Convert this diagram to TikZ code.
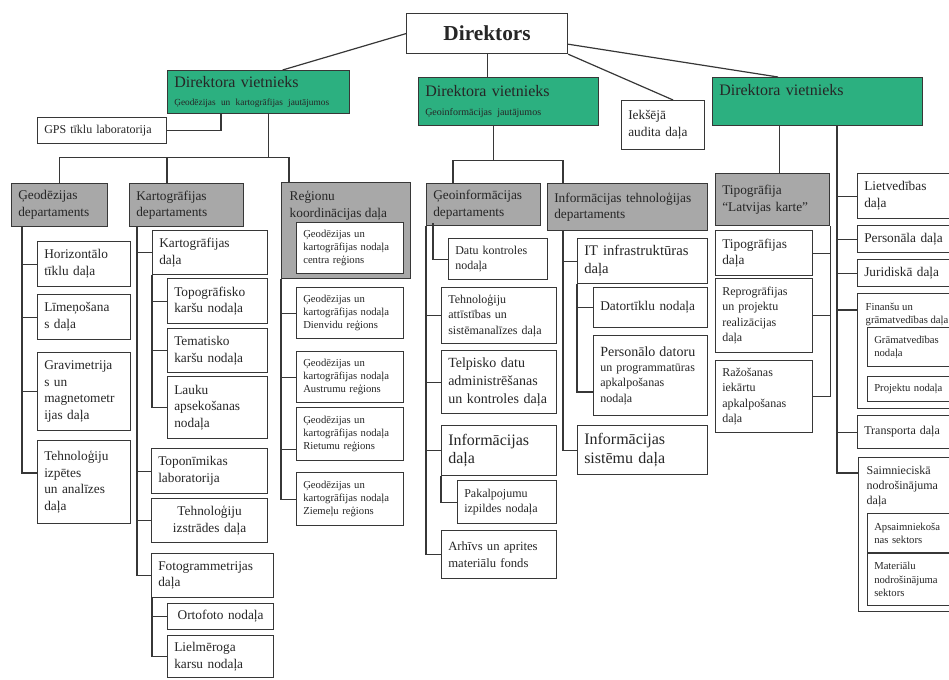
\documentclass[tikz,border=0pt]{standalone}
\usepackage{fontspec}
\setmainfont{Liberation Serif}
\usepackage{xcolor}
\usepackage{tikz}
\usetikzlibrary{calc}

\definecolor{deputygreen}{RGB}{44,176,128}
\definecolor{deptgray}{RGB}{168,168,168}
\definecolor{linegray}{RGB}{55,55,55}

% box from its top left and bottom right corner (in pixels)
\newcommand{\obox}[7][]{%
  \pgfmathsetmacro{\boxw}{(#5-#3)*0.75}%
  \pgfmathsetmacro{\boxh}{(#6-#4)*0.75}%
  \pgfmathsetmacro{\boxt}{\boxw-10}%
  \node[box,#1,anchor=north west,minimum width=\boxw pt,minimum height=\boxh pt,text width=\boxt pt] (#2) at (#3,#4) {#7};%
}

\begin{document}
\begin{tikzpicture}[x=0.75pt,y=-0.75pt,
    box/.style={draw=linegray,line width=0.9pt,fill=white,inner xsep=5pt,inner ysep=1pt,align=left,text=black!85,font=\fontsize{10}{12.5}\selectfont},
    dept/.style={fill=deptgray},
    deputy/.style={fill=deputygreen},
    fsmall/.style={font=\fontsize{8}{10}\selectfont},
    fmid/.style={font=\fontsize{9}{11.5}\selectfont},
    fbig/.style={font=\fontsize{12}{14}\selectfont},
    link/.style={draw=linegray,line width=0.9pt}]
                \useasboundingbox (0,0) rectangle (949,679);
                \clip (0,0) rectangle (949,679);

                % Top level
                \obox[align=center,font=\fontsize{16}{19}\bfseries]{dir}{406}{13}{567}{53}{Direktors}
                \obox[deputy,fbig]{depG}{167}{70}{349}{113}{Direktora vietnieks\\{\fontsize{7}{8}\selectfont Ģeodēzijas un kartogrāfijas jautājumos}}
                \obox[deputy,fbig]{depI}{418}{77}{598}{125}{Direktora vietnieks\\{\fontsize{7.5}{8}\selectfont Ģeoinformācijas jautājumos}}
                \obox{aud}{621}{100}{704}{149}{Iekšējā\\audita daļa}
                \obox[deputy,fbig]{depR}{712}{77}{922}{125}{Direktora vietnieks\\{\fontsize{7}{12}\selectfont\strut}}
                \obox[fmid]{gps}{37}{117}{166}{143}{GPS tīklu laboratorija}

                % Departments
                \obox[dept]{geoD}{11}{183}{107}{226}{Ģeodēzijas\\departaments}
                \obox[dept]{kartD}{129}{183}{243}{226}{Kartogrāfijas\\departaments}
                \obox[dept]{regD}{281}{182}{410}{278}{}
                \node[anchor=north west,align=left,text=black!85,font=\fontsize{10}{12.5}\selectfont] (regT) at ($(regD.north west)+(4,4)$) {Reģionu\\koordinācijas daļa};
                \obox[fsmall]{cen}{296}{222}{403}{273}{Ģeodēzijas un\\kartogrāfijas nodaļa\\centra reģions}
                \obox[dept]{geoI}{426}{183}{540}{225}{Ģeoinformācijas\\departaments}
                \obox[dept]{itD}{547}{183}{707}{230}{Informācijas tehnoloģijas\\departaments}
                \obox[dept]{tip}{715}{173}{829}{225}{Tipogrāfija\\“Latvijas karte”}

                % Geodesy column
                \obox{hor}{37}{241}{130}{286}{Horizontālo\\tīklu daļa}
                \obox{lim}{37}{294}{130}{339}{Līmeņošana\\s daļa}
                \obox{grav}{37}{352}{130}{430}{Gravimetrija\\s un\\magnetometr\\ijas daļa}
                \obox{tehI}{37}{440}{130}{523}{Tehnoloģiju\\izpētes\\un analīzes\\daļa}

                % Cartography column
                \obox{kd}{152}{230}{267}{274}{Kartogrāfijas\\daļa}
                \obox{topo}{167}{278}{267}{323}{Topogrāfisko\\karšu nodaļa}
                \obox{tem}{167}{328}{267}{372}{Tematisko\\karšu nodaļa}
                \obox{lauk}{167}{376}{267}{438}{Lauku\\apsekošanas\\nodaļa}
                \obox{topn}{151}{448}{267}{493}{Toponīmikas\\laboratorija}
                \obox[align=center]{tehS}{151}{498}{267}{542}{Tehnoloģiju\\izstrādes daļa}
                \obox{foto}{151}{553}{273}{597}{Fotogrammetrijas\\daļa}
                \obox[align=center]{orto}{167}{603}{273}{629}{Ortofoto nodaļa}
                \obox{liel}{167}{635}{273}{677}{Lielmēroga\\karsu nodaļa}

                % Regions column
                \obox[fsmall]{die}{296}{287}{403}{338}{Ģeodēzijas un\\kartogrāfijas nodaļa\\Dienvidu reģions}
                \obox[fsmall]{aus}{296}{351}{403}{402}{Ģeodēzijas un\\kartogrāfijas nodaļa\\Austrumu reģions}
                \obox[fsmall]{rie}{296}{407}{403}{460}{Ģeodēzijas un\\kartogrāfijas nodaļa\\Rietumu reģions}
                \obox[fsmall]{zie}{296}{472}{403}{525}{Ģeodēzijas un\\kartogrāfijas nodaļa\\Ziemeļu reģions}

                % Geoinformation column
                \obox[fmid]{datu}{448}{238}{547}{279}{Datu kontroles\\nodaļa}
                \obox[fmid]{tatt}{441}{287}{556}{343}{Tehnoloģiju\\attīstības un\\sistēmanalīzes daļa}
                \obox[font=\fontsize{10.5}{13.5}\selectfont]{telp}{441}{350}{556}{413}{Telpisko datu\\administrēšanas\\un kontroles daļa}
                \obox[fbig]{infd}{441}{425}{556}{475}{Informācijas\\daļa}
                \obox[fmid]{pak}{457}{480}{556}{523}{Pakalpojumu\\izpildes nodaļa}
                \obox[font=\fontsize{9.5}{12.5}\selectfont]{arh}{441}{530}{556}{578}{Arhīvs un aprites\\materiālu fonds}

                % IT column
                \obox[font=\fontsize{11}{13.5}\selectfont]{itinf}{577}{238}{707}{283}{IT infrastruktūras\\daļa}
                \obox{dat}{593}{287}{707}{327}{Datortīklu nodaļa}
                \obox[fmid]{pers}{593}{335}{707}{415}{{\fontsize{10.5}{13}\selectfont Personālo datoru}\\un programmatūras\\apkalpošanas\\nodaļa}
                \obox[fbig]{infs}{577}{425}{707}{474}{Informācijas\\sistēmu daļa}

                % Printing column
                \obox{tipd}{715}{230}{812}{275}{Tipogrāfijas\\daļa}
                \obox[fmid]{repr}{715}{278}{812}{352}{Reprogrāfijas\\un projektu\\realizācijas\\daļa}
                \obox[fmid]{raz}{715}{360}{812}{432}{Ražošanas\\iekārtu\\apkalpošanas\\daļa}

                % Right column
                \obox{liet}{857}{173}{960}{218}{Lietvedības\\daļa}
                \obox{perd}{857}{225}{960}{252}{Personāla daļa}
                \obox{jur}{857}{259}{960}{286}{Juridiskā daļa}
                \obox{fin}{857}{293}{960}{408}{}
                \node[anchor=north west,align=left,text=black!85,fsmall] (finT) at ($(fin.north west)+(4,5)$) {Finanšu un\\grāmatvedības daļa};
                \obox[fsmall]{gram}{867}{327}{960}{366}{Grāmatvedības\\nodaļa}
                \obox[fsmall]{proj}{867}{376}{960}{401}{Projektu nodaļa}
                \obox[fmid]{trans}{857}{415}{960}{448}{Transporta daļa}
                \obox{saim}{858}{457}{960}{611}{}
                \node[anchor=north west,align=left,text=black!85,fmid] (saimT) at ($(saim.north west)+(4,4)$) {Saimnieciskā\\nodrošinājuma\\daļa};
                \obox[fsmall]{apsa}{867}{513}{960}{552}{Apsaimniekoša\\nas sektors}
                \obox[fsmall]{mat}{867}{553}{960}{605}{Materiālu\\nodrošinājuma\\sektors}

                % Director links
                \draw[link] (dir.west) -- ($(depG.north)+(24,0)$);
                \draw[link] (dir.south) -- (dir.south |- depI.north);
                \draw[link] (dir.south east) -- ($(aud.north)+(10,0)$);
                \draw[link] ($(dir.south east)+(0,-10)$) -- ($(depR.north west)+(66,0)$);

                % Deputy (geodesy) links
                \draw[link] (gps.east) -| ($(depG.south west)+(54,0)$);
                \coordinate (busG) at ($(depG.south)+(10,43)$);
                \draw[link] (busG |- depG.south) -- (busG);
                \coordinate (kartDin) at ($(kartD.north west)+(38,0)$);
                \coordinate (regDin) at ($(regD.north west)+(8,0)$);
                \draw[link] (geoD.north) |- (regDin |- busG) -- (regDin);
                \draw[link] (kartDin) -- (kartDin |- busG);

                \coordinate (gsp) at ($(geoD.south west)+(11,0)$);
                \draw[link] (gsp) |- ($(tehI.north west)+(0,33)$);
                \foreach \n in {hor,lim,grav} \draw[link] (gsp |- \n.west) -- (\n.west);

                \coordinate (ksp) at ($(kartD.south west)+(8,0)$);
                \draw[link] (ksp) |- (foto.west);
                \foreach \n in {kd,topn,tehS} \draw[link] (ksp |- \n.west) -- (\n.west);
                \draw[link] (kd.south west) |- (lauk.west);
                \foreach \n in {topo,tem} \draw[link] (kd.south west |- \n.west) -- (\n.west);
                \coordinate (fsp) at ($(foto.south west)+(1,0)$);
                \draw[link] (fsp) |- (liel.west);
                \draw[link] (fsp |- orto.west) -- (orto.west);

                \draw[link] (regD.south west) |- (zie.west);
                \foreach \n in {die,aus} \draw[link] (regD.south west |- \n.west) -- (\n.west);
                \coordinate (rieIn) at ($(rie.south west)+(0,-12)$);
                \draw[link] (regD.south west |- rieIn) -- (rieIn);

                % Deputy (geoinformation) links
                \coordinate (busI) at ($(depI.south)+(-15,34)$);
                \draw[link] (busI |- depI.south) -- (busI);
                \coordinate (geoIin) at ($(geoI.north west)+(27,0)$);
                \coordinate (itDin) at ($(itD.north west)+(16,0)$);
                \draw[link] (geoIin) |- (itDin |- busI) -- (itDin);

                \draw[link] ($(geoI.south west)+(7,-3)$) |- (datu.west);
                \draw[link] (geoI.south west) |- (arh.west);
                \foreach \n in {tatt,telp,infd} \draw[link] (geoI.south west |- \n.west) -- (\n.west);
                \draw[link] (infd.south west) |- (pak.west);

                \coordinate (isp) at ($(itD.south west)+(16,0)$);
                \draw[link] (isp) |- (infs.west);
                \draw[link] (isp |- itinf.west) -- (itinf.west);
                \draw[link] (itinf.south west) |- ($(pers.north west)+(0,57)$);
                \draw[link] (itinf.south west |- dat.west) -- (dat.west);

                % Deputy (right) links
                \coordinate (tipIn) at ($(tip.north)+(7,0)$);
                \draw[link] (tipIn |- depR.south) -- (tipIn);
                \coordinate (rsp) at ($(depR.south west)+(125,0)$);
                \draw[link] (rsp) |- ($(saim.north west)+(0,16)$);
                \foreach \n in {liet,perd,jur,trans} \draw[link] (rsp |- \n.west) -- (\n.west);
                \coordinate (finIn) at ($(fin.north west)+(0,17)$);
                \draw[link] (rsp |- finIn) -- (finIn);

                \draw[link] (tip.south east) |- (raz.east);
                \foreach \n in {tipd,repr} \draw[link] (tip.south east |- \n.east) -- (\n.east);
\end{tikzpicture}
\end{document}
